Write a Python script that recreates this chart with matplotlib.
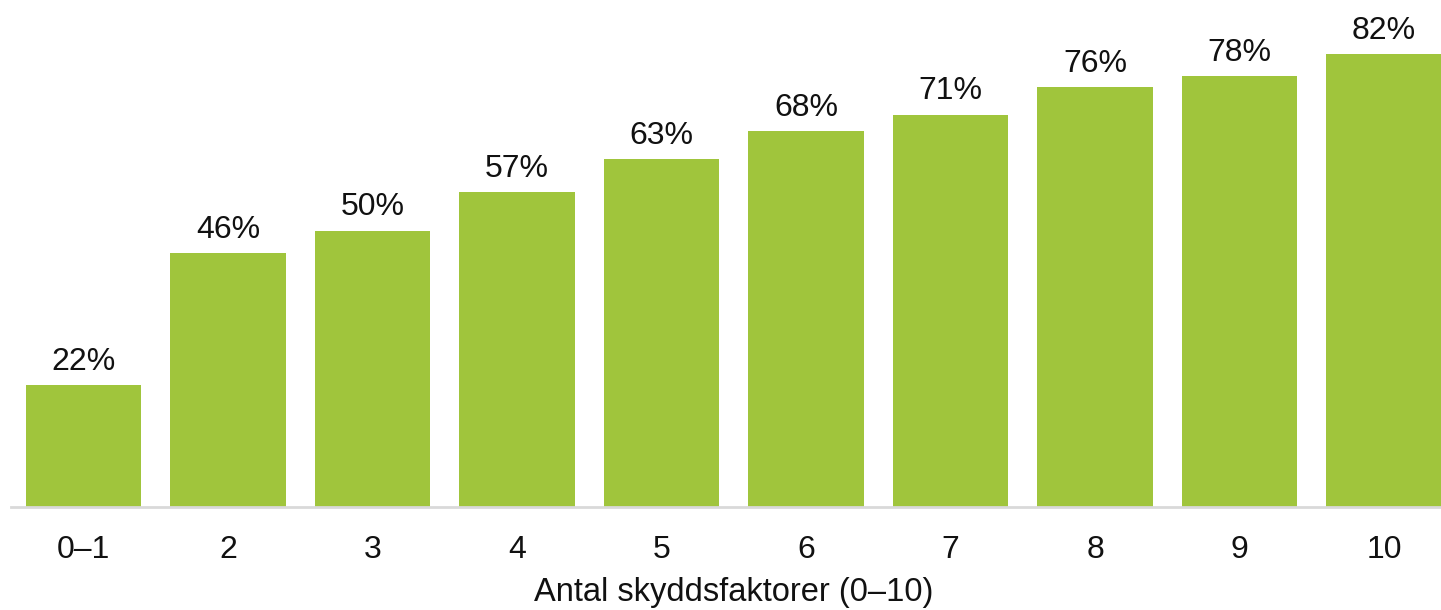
import matplotlib
matplotlib.use("Agg")
import matplotlib.pyplot as plt

categories = ["0–1", "2", "3", "4", "5", "6", "7", "8", "9", "10"]
values = [22, 46, 50, 57, 63, 68, 71, 76, 78, 82]
xlabel = "Antal skyddsfaktorer (0–10)"

plt.rcParams['font.family'] = ['Liberation Sans', 'DejaVu Sans']

W, H = 1441, 610
fig = plt.figure(figsize=(W / 100, H / 100), dpi=100)
ax = fig.add_axes([11.25 / W, 103 / H, 1445 / W, 500 / H])

x = list(range(len(categories)))
bars = ax.bar(x, values, width=0.796, color="#A0C53C", zorder=2)
ax.set_xlim(-0.5, len(categories) - 0.5)
ax.set_ylim(0, 90.5)

for xi, v in zip(x, values):
    ax.annotate(f"{v}%", (xi, v), xytext=(0, 6), textcoords="offset points",
                ha="center", va="bottom", fontsize=23, color="#111111",
                annotation_clip=False)

ax.set_xticks(x)
ax.set_xticklabels(categories, fontsize=23, color="#111111")
ax.tick_params(axis="x", length=0, pad=20)
ax.set_yticks([])
for s in ["top", "right", "left"]:
    ax.spines[s].set_visible(False)
ax.spines["bottom"].set_color("#d9d9d9")
ax.spines["bottom"].set_linewidth(2)
ax.set_xlabel(xlabel, fontsize=23.5, color="#111111", labelpad=9)

fig.savefig("out.png", dpi=100)
